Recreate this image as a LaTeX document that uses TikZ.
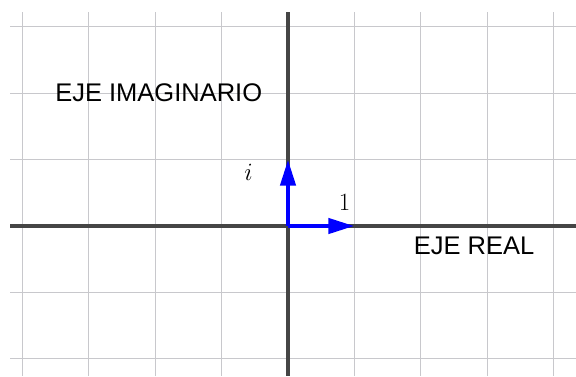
\documentclass[tikz,border=0pt]{standalone}
\usepackage{fontspec}
\setsansfont{Liberation Sans}
\usetikzlibrary{arrows.meta}
\definecolor{gridgray}{HTML}{C8C8CC}
\definecolor{axisgray}{HTML}{454545}
\definecolor{vecblue}{HTML}{0000FF}
\tikzset{
  gridline/.style={draw=gridgray, line width=1.3pt},
  axisline/.style={draw=axisgray, line width=3.2pt},
  unitvec/.style={draw=vecblue, line width=4.2pt, -{Triangle[length=26pt,width=15pt]}},
  axislabel/.style={font=\sffamily\fontsize{25.5}{28}\selectfont, inner sep=0pt, anchor=base},
  mathlabel/.style={font=\fontsize{29}{31}\selectfont, inner sep=0pt}
}
\begin{document}
\begin{tikzpicture}[x=1pt, y=-1pt]
  \useasboundingbox (0,0) rectangle (576,376);
  % grid
  \foreach \k in {-4,...,4} {
    \draw[gridline] ({288+66.4*\k},12) -- ({288+66.4*\k},376);
  }
  \foreach \k in {-3,...,2} {
    \draw[gridline] (10,{226+66.4*\k}) -- (576,{226+66.4*\k});
  }
  % axes
  \coordinate (xl) at (10,226);
  \coordinate (xr) at (576,226);
  \coordinate (yt) at (288,12);
  \coordinate (yb) at (288,376);
  \draw[axisline] (xl) -- (xr);
  \draw[axisline] (yt) -- (yb);
  % unit vectors
  \coordinate (O) at (288,226);
  \coordinate (E1) at (354.4,226);
  \coordinate (Ei) at (288,159.6);
  \draw[unitvec] (O) -- (E1);
  \draw[unitvec] (O) -- (Ei);
  % labels
  \node[mathlabel] (lone) at (344.7,202.5) {$1$};
  \node[mathlabel] (li) at (248.5,172) {$i$};
  \node[axislabel] (limag) at (158.7,101.7) {EJE IMAGINARIO};
  \node[axislabel] (lreal) at (474,254.3) {EJE REAL};
\end{tikzpicture}
\end{document}
